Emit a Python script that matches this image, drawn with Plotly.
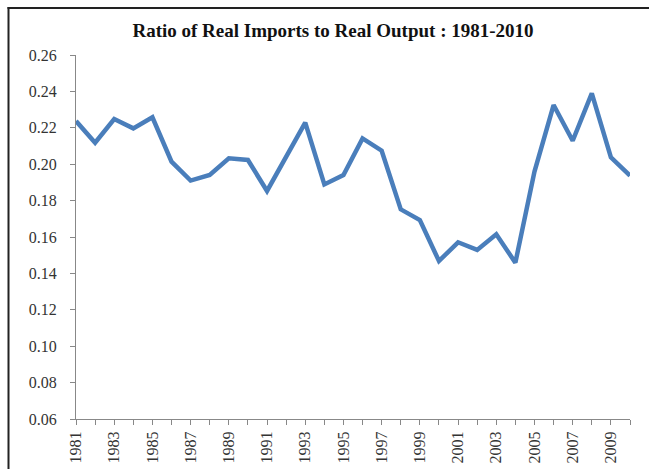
import plotly.graph_objects as go

years = list(range(1981, 2011))
ratio = [0.2237, 0.2118, 0.2248, 0.2197, 0.2258, 0.2014, 0.1910, 0.1941, 0.2032, 0.2023,
         0.1853, 0.2041, 0.2228, 0.1889, 0.1941, 0.2142, 0.2074, 0.1752, 0.1693, 0.1468,
         0.1571, 0.1529, 0.1615, 0.1459, 0.1959, 0.2325, 0.2129, 0.2389, 0.2038, 0.1937]
tick_years = list(range(1981, 2010, 2))

W, H = 650, 469
L, R, T, B = 76, 20, 55, 50
pw, ph = W - L - R, H - T - B

def px_x(p):
    return (p - L) / pw

def px_y(p):
    return (H - B - p) / ph

serif = "Liberation Serif"
tickfont = dict(family=serif, size=16, color="#333333")

fig = go.Figure()
fig.add_trace(go.Scatter(x=years, y=ratio, mode="lines",
                         line=dict(color="#4a7ebb", width=4.5), showlegend=False))

border = dict(color="#222222", width=2)
fig.update_layout(
    width=W, height=H,
    margin=dict(l=L, r=R, t=T, b=B, autoexpand=False),
    paper_bgcolor="white", plot_bgcolor="white",
    font=dict(family=serif, size=16, color="#333333"),
    title=dict(text="<b>Ratio of Real Imports to Real Output : 1981-2010</b>",
               x=333 / W, xref="container", xanchor="center",
               y=1 - 30 / H, yanchor="middle",
               font=dict(family=serif, size=19, color="#111111")),
    xaxis=dict(range=[1981, 2010], tickmode="array", tickvals=tick_years,
               ticktext=[str(y) for y in tick_years], tickangle=-90,
               tickfont=tickfont, automargin=False,
               ticks="outside", ticklen=5, tickcolor="#888888",
               showline=True, linecolor="#888888", linewidth=1,
               showgrid=False, zeroline=False,
               minor=dict(dtick=1, tick0=1981, ticks="outside", ticklen=5,
                          tickcolor="#888888", showgrid=False)),
    yaxis=dict(range=[0.06, 0.26], dtick=0.02, tick0=0.06, tickformat=".2f",
               tickfont=tickfont, automargin=False, ticklabelstandoff=10,
               ticks="outside", ticklen=5, tickcolor="#888888",
               showline=True, linecolor="#888888", linewidth=1,
               showgrid=False, zeroline=False),
    shapes=[
        dict(type="line", xref="paper", yref="paper",
             x0=px_x(7.5), x1=px_x(649), y0=px_y(8), y1=px_y(8), line=border, layer="above"),
        dict(type="line", xref="paper", yref="paper",
             x0=px_x(8.5), x1=px_x(8.5), y0=px_y(7), y1=px_y(471), line=border, layer="above"),
    ],
)

fig.write_html("out.html", config={"displayModeBar": False},
               post_script="document.body.style.margin='0';document.body.style.overflow='hidden';")
